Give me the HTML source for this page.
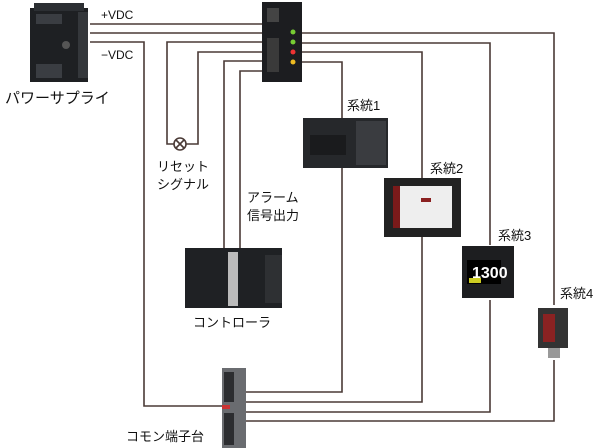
<!DOCTYPE html>
<html><head><style>
body{margin:0;background:#fff;width:600px;height:448px;overflow:hidden;font-family:"Liberation Sans","Noto Sans CJK JP",sans-serif}
</style></head><body>
<svg width="600" height="448" xmlns="http://www.w3.org/2000/svg" style="position:absolute;left:0;top:0">
<g fill="none" stroke="#4a3a36" stroke-width="1.6">
<path d="M90 24H262"/>
<path d="M90 33H554V305"/>
<path d="M90 42H144V406H222"/>
<path d="M262 42H167V144H174"/>
<path d="M186 144H198V52H262"/>
<path d="M262 61H224V250"/>
<path d="M262 71H240V250"/>
<path d="M300 43H490V245"/>
<path d="M300 52H422V178"/>
<path d="M300 62H342V392H244"/>
<path d="M422 237V402H244"/>
<path d="M490 300V412H244"/>
<path d="M554 360V421H244"/>
<circle cx="180" cy="144" r="6"/>
<path d="M176 140L184 148M184 140L176 148"/>
</g>
<!-- power supply -->
<rect x="30" y="8" width="58" height="74" fill="#1e2023"/>
<rect x="34" y="3" width="50" height="8" fill="#2c2f33"/>
<rect x="36" y="14" width="26" height="10" fill="#3a3d42"/>
<rect x="36" y="64" width="26" height="14" fill="#3a3d42"/>
<rect x="78" y="12" width="10" height="66" fill="#34373b"/>
<circle cx="66" cy="45" r="4" fill="#555"/>
<!-- relay -->
<rect x="262" y="2" width="40" height="80" fill="#1c1d20"/>
<circle cx="293" cy="32" r="2.5" fill="#7c3"/><circle cx="293" cy="42" r="2.5" fill="#7c3"/>
<circle cx="293" cy="52" r="2.5" fill="#e33"/><circle cx="293" cy="62" r="2.5" fill="#eb2"/>
<rect x="267" y="8" width="12" height="14" fill="#444"/><rect x="267" y="38" width="12" height="34" fill="#3a3a3a"/>
<!-- system1 -->
<rect x="303" y="118" width="85" height="50" fill="#26282b"/>
<rect x="356" y="121" width="30" height="44" fill="#3a3c40"/>
<rect x="310" y="135" width="36" height="20" fill="#1a1b1d"/>
<!-- system2 -->
<rect x="384" y="178" width="77" height="59" fill="#222"/>
<rect x="393" y="186" width="59" height="42" fill="#eee"/>
<rect x="393" y="186" width="7" height="42" fill="#7a1a1a"/>
<rect x="421" y="198" width="10" height="4" fill="#8a2020"/>
<!-- system3 -->
<rect x="462" y="246" width="52" height="52" fill="#1d1e20"/>
<rect x="467" y="260" width="34" height="24" fill="#000"/>
<text x="472" y="278" fill="#fff" font-size="16" font-weight="bold">1300</text>
<rect x="469" y="278" width="12" height="5" fill="#cc2"/>
<!-- sensor -->
<rect x="538" y="308" width="30" height="40" fill="#333"/>
<rect x="543" y="314" width="12" height="28" fill="#8b2222"/>
<rect x="548" y="348" width="12" height="10" fill="#999"/>
<!-- controller -->
<rect x="185" y="248" width="97" height="60" fill="#1f2124"/>
<rect x="228" y="252" width="10" height="54" fill="#bbb"/>
<rect x="265" y="255" width="17" height="48" fill="#2e3033"/>
<!-- terminal -->
<rect x="222" y="368" width="24" height="80" fill="#6a6c70"/>
<rect x="224" y="372" width="10" height="30" fill="#2c2d30"/>
<rect x="224" y="413" width="10" height="32" fill="#2c2d30"/>
<rect x="222" y="405" width="8" height="4" fill="#c33"/>
<g fill="#111" font-size="12">
<text x="101" y="19">+VDC</text>
<text x="101" y="59">−VDC</text>
<text x="347" y="110" font-size="13">系統1</text>
<text x="430" y="173" font-size="13">系統2</text>
<text x="498" y="240" font-size="13">系統3</text>
<text x="560" y="298" font-size="13">系統4</text>
<text x="157" y="171" font-size="13">リセット</text>
<text x="157" y="189" font-size="13">シグナル</text>
<text x="247" y="202" font-size="13">アラーム</text>
<text x="247" y="220" font-size="13">信号出力</text>
<text x="193" y="327" font-size="13">コントローラ</text>
<text x="126" y="441" font-size="13">コモン端子台</text>
<text x="5" y="103" font-size="15">パワーサプライ</text>
</g>
</svg>
</body></html>
